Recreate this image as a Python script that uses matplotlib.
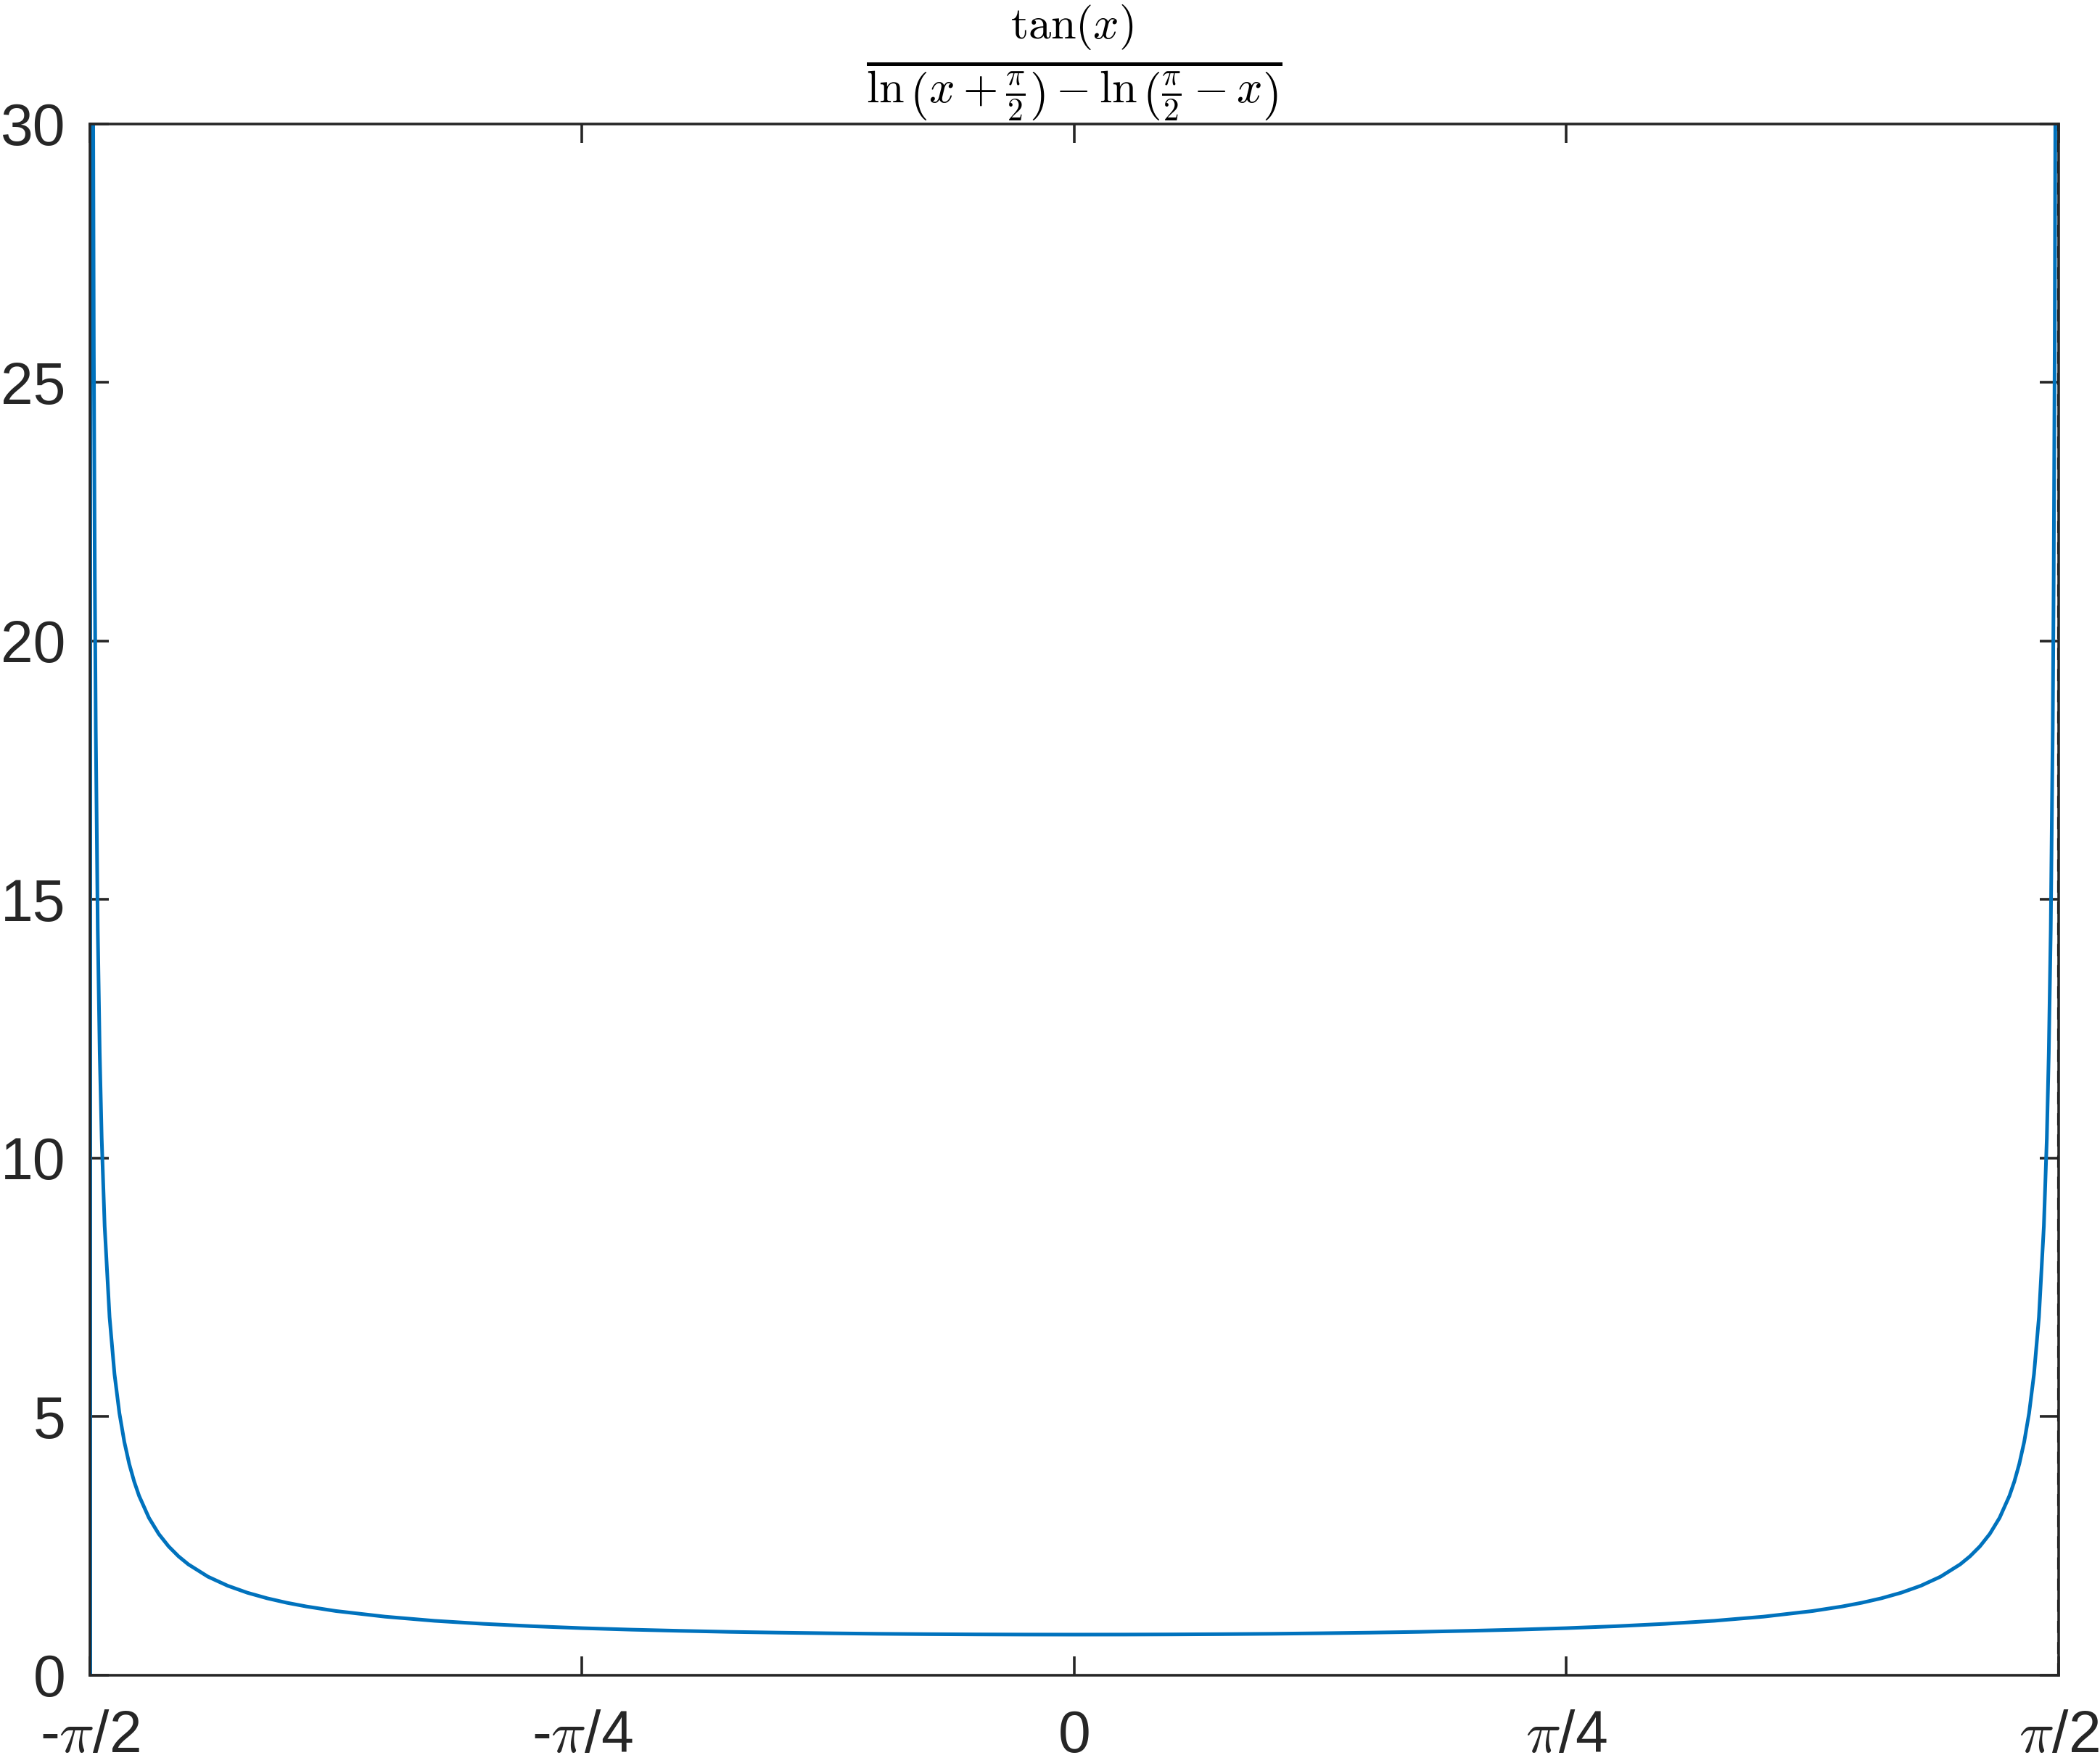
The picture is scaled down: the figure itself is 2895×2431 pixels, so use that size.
import numpy as np
import matplotlib
matplotlib.use('Agg')
import matplotlib.pyplot as plt

plt.rcParams['font.family'] = ['Liberation Sans', 'DejaVu Sans']
plt.rcParams['mathtext.fontset'] = 'cm'

# 曲线读数：x 以 π/2 为单位（右半边，左半边对称）
u_half = [0.0, 0.05, 0.10, 0.15, 0.20, 0.25, 0.30, 0.35, 0.40, 0.45, 0.50,
          0.55, 0.60, 0.65, 0.70, 0.75, 0.78, 0.80, 0.82, 0.84, 0.86, 0.88,
          0.90, 0.91, 0.92, 0.93, 0.94, 0.95, 0.955, 0.96, 0.965, 0.97,
          0.975, 0.98, 0.985, 0.988, 0.99, 0.992, 0.994, 0.995, 0.996, 0.997]
y_half = [0.785, 0.786, 0.789, 0.794, 0.801, 0.811, 0.823, 0.838, 0.858, 0.881, 0.910,
          0.947, 0.993, 1.052, 1.132, 1.241, 1.329, 1.401, 1.488, 1.595, 1.730, 1.905,
          2.144, 2.300, 2.491, 2.731, 3.043, 3.468, 3.745, 4.084, 4.511, 5.067,
          5.825, 6.925, 8.687, 10.38, 12.03, 14.42, 18.27, 21.26, 25.62, 32.64]

# 左端 x=-π/2 处的竖线
edge_u = [-1.0, -1.0]
edge_y = [0, 30]

xtick_labels = ['-$\\pi$/2', '-$\\pi$/4', '0', '$\\pi$/4', '$\\pi$/2']
ytick_values = [0, 5, 10, 15, 20, 25, 30]

u = np.concatenate([-np.array(u_half[:0:-1]), np.array(u_half)])
y = np.concatenate([np.array(y_half[:0:-1]), np.array(y_half)])
x = u * np.pi / 2

fig = plt.figure(figsize=(28.95, 24.31), dpi=100)
ax = fig.add_axes([0.0428, 0.0498, 0.9375, 0.8799])

blue = '#0072BD'
dark = '#262626'
ax.plot(np.array(edge_u) * np.pi / 2, edge_y, color=blue, lw=3.6, solid_capstyle='butt')
ax.plot(x, y, color=blue, lw=3.6)
ax.plot([np.pi / 2, np.pi / 2], [0, 30], color='black', lw=3.0, ls=(0, (4, 3)))

ax.set_xlim(-np.pi / 2, np.pi / 2)
ax.set_ylim(0, 30)
ax.set_xticks([-np.pi / 2, -np.pi / 4, 0, np.pi / 4, np.pi / 2])
ax.set_xticklabels(xtick_labels)
ax.set_yticks(ytick_values)

for s in ax.spines.values():
    s.set_color(dark)
    s.set_linewidth(2.6)
ax.tick_params(direction='in', length=19, width=2.6, colors=dark,
               labelsize=58, top=True, right=True)
ax.tick_params(axis='y', pad=24)
ax.tick_params(axis='x', pad=34)

# 标题（分式）
fig.text(0.5116, 0.9305,
         r'$\frac{\tan(x)}{\ln\left(x+\frac{\pi}{2}\right)-\ln\left(\frac{\pi}{2}-x\right)}$',
         fontsize=64, color='black', ha='center', va='bottom')

fig.savefig('out.png', dpi=100)
